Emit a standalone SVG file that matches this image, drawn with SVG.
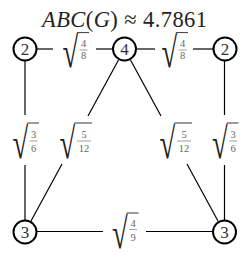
<svg xmlns="http://www.w3.org/2000/svg" width="250" height="257" viewBox="0 0 250 257">
<style>
.e{stroke:#000;stroke-width:1.2;fill:none}
.n circle{fill:#fff;stroke:#000;stroke-width:2}
.n text{font-family:"Liberation Serif",serif;font-size:17px;fill:#333;text-anchor:middle}
.t{font-family:"Liberation Serif",serif;font-size:22.5px;fill:#222;text-anchor:middle}
.r{font-family:"Liberation Serif",serif;font-size:44px;fill:#222}
.f{font-family:"Liberation Serif",serif;font-size:10.5px;fill:#666;text-anchor:middle}
.fb{stroke:#777;stroke-width:0.7}
.v{stroke:#222;stroke-width:0.9}
</style>
<rect width="250" height="257" fill="#fff"/>
<text class="t" x="124.5" y="27" textLength="165"><tspan font-style="italic">ABC</tspan>(<tspan font-style="italic">G</tspan>) ≈ 4.7861</text>
<g id="edges">
<line class="e" x1="37" y1="49" x2="53" y2="49"/>
<line class="e" x1="96" y1="49" x2="112" y2="49"/>
<line class="e" x1="137" y1="49" x2="155" y2="49"/>
<line class="e" x1="193" y1="49" x2="213" y2="49"/>
<line class="e" x1="25" y1="61" x2="25" y2="115"/>
<line class="e" x1="25" y1="165" x2="25" y2="220.5"/>
<line class="e" x1="224.5" y1="61" x2="224.5" y2="115"/>
<line class="e" x1="224.5" y1="165" x2="224.5" y2="220.5"/>
<line class="e" x1="118.5" y1="60" x2="88" y2="116"/>
<line class="e" x1="62" y1="164" x2="31" y2="221"/>
<line class="e" x1="130.5" y1="60" x2="161" y2="116"/>
<line class="e" x1="187" y1="164" x2="218" y2="221"/>
<line class="e" x1="36.5" y1="231.5" x2="103" y2="231.5"/>
<line class="e" x1="146" y1="231.5" x2="213" y2="231.5"/>
</g>
<g id="labels">
<g id="l1"><text class="r" transform="translate(62.5,67) scale(0.65,1)">√</text><line class="v" x1="77.3" y1="32.6" x2="89" y2="32.6"/><text class="f" x="83.5" y="47">4</text><line class="fb" x1="79.5" y1="50" x2="87.5" y2="50"/><text class="f" x="83.5" y="59">8</text></g>
<g id="l2"><text class="r" transform="translate(161.5,67) scale(0.65,1)">√</text><line class="v" x1="176.3" y1="32.6" x2="188" y2="32.6"/><text class="f" x="182.5" y="47">4</text><line class="fb" x1="178.5" y1="50" x2="186.5" y2="50"/><text class="f" x="182.5" y="59">8</text></g>
<g id="l3"><text class="r" transform="translate(12.5,157.5) scale(0.65,1)">√</text><line class="v" x1="27.3" y1="123" x2="39" y2="123"/><text class="f" x="33.5" y="137.5">3</text><line class="fb" x1="29.5" y1="141" x2="37.5" y2="141"/><text class="f" x="33.5" y="152">6</text></g>
<g id="l4"><text class="r" transform="translate(59.5,157.5) scale(0.65,1)">√</text><line class="v" x1="74.3" y1="123" x2="92" y2="123"/><text class="f" x="84" y="137.5">5</text><line class="fb" x1="77" y1="141" x2="91" y2="141"/><text class="f" x="84" y="152">12</text></g>
<g id="l5"><text class="r" transform="translate(159.5,157.5) scale(0.65,1)">√</text><line class="v" x1="174.3" y1="123" x2="192" y2="123"/><text class="f" x="184" y="137.5">5</text><line class="fb" x1="177" y1="141" x2="191" y2="141"/><text class="f" x="184" y="152">12</text></g>
<g id="l6"><text class="r" transform="translate(212,157.5) scale(0.65,1)">√</text><line class="v" x1="226.8" y1="123" x2="238.5" y2="123"/><text class="f" x="233" y="137.5">3</text><line class="fb" x1="229" y1="141" x2="237" y2="141"/><text class="f" x="233" y="152">6</text></g>
<g id="l7"><text class="r" transform="translate(112,247.5) scale(0.65,1)">√</text><line class="v" x1="126.8" y1="213" x2="138.5" y2="213"/><text class="f" x="133" y="226.5">4</text><line class="fb" x1="129" y1="229.5" x2="137" y2="229.5"/><text class="f" x="133" y="241">9</text></g>
</g>
<g id="n1" class="n"><circle cx="25" cy="49" r="11.5"/><text x="25" y="55">2</text></g>
<g id="n2" class="n"><circle cx="124.5" cy="49" r="11.5"/><text x="124.5" y="55">4</text></g>
<g id="n3" class="n"><circle cx="225" cy="49" r="11.5"/><text x="225" y="55">2</text></g>
<g id="n4" class="n"><circle cx="25" cy="232" r="11.5"/><text x="25" y="238">3</text></g>
<g id="n5" class="n"><circle cx="224.5" cy="232" r="11.5"/><text x="224.5" y="238">3</text></g>
</svg>
